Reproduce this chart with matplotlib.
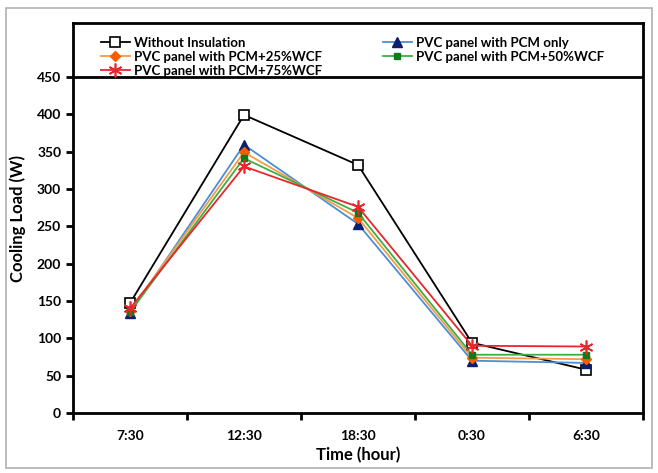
import numpy as np
import matplotlib.pyplot as plt
from matplotlib.patches import Rectangle

plt.rcParams['font.family'] = ['Lato', 'DejaVu Sans']
plt.rcParams['font.weight'] = 'bold'

# data
times = ['7:30', '12:30', '18:30', '0:30', '6:30']
without_ins = [147, 399, 332, 94, 58]
pcm_only = [134, 359, 253, 70, 67]
pcm_25 = [137, 349, 261, 74, 72]
pcm_50 = [135, 341, 268, 78, 78]
pcm_75 = [140, 330, 276, 90, 89]

fig = plt.figure(figsize=(6.58, 4.73), dpi=100)
ax = fig.add_axes([73/658, 1 - 413/473, 570/658, 390/473])

# light border around the whole picture
fig.patches.append(Rectangle((6/658, 5/473), 646/658, 460/473,
                             transform=fig.transFigure, fill=False,
                             edgecolor='#b0b0b0', lw=1.2))

x = np.arange(len(times))
l1, = ax.plot(x, without_ins, color='black', lw=1.3, marker='s', ms=7,
              mfc='white', mec='black', mew=1.2, label='Without Insulation')
l2, = ax.plot(x, pcm_only, color='#4a8fd4', lw=1.3, marker='^', ms=7,
              mfc='#0a1f6e', mec='#0a1f6e', label='PVC panel with PCM only')
l3, = ax.plot(x, pcm_25, color='#f59a4a', lw=1.3, marker='D', ms=5,
              mfc='#ff5a00', mec='#ff5a00', label='PVC panel with PCM+25%WCF')
l4, = ax.plot(x, pcm_50, color='#3cb043', lw=1.3, marker='s', ms=5,
              mfc='#0a7d1a', mec='#0a7d1a', label='PVC panel with PCM+50%WCF')
l5, = ax.plot(x, pcm_75, color='#e8262b', lw=1.3, marker=(6, 2, 0), ms=10,
              mec='#e8262b', mew=1.2, label='PVC panel with PCM+75%WCF')

ax.axhline(450, color='black', lw=2)
ax.set_xlim(-0.5, 4.5)
ax.set_ylim(0, 522)
ax.set_yticks(np.arange(0, 451, 50))
ax.set_xticks(np.arange(-0.5, 4.6, 1))
ax.set_xticklabels([])
ax.set_xticks(x, minor=True)
ax.set_xticklabels(times, minor=True)
ax.tick_params(axis='x', which='minor', length=0, pad=12, labelsize=10)
ax.tick_params(axis='x', which='major', length=5, width=2, direction='out')
ax.tick_params(axis='y', length=5, width=2, direction='out', labelsize=10)
for s in ax.spines.values():
    s.set_linewidth(2)

ax.set_xlabel('Time (hour)', fontsize=12, fontweight='bold', labelpad=4)
ax.set_ylabel('Cooling Load (W)', fontsize=12, fontweight='bold', labelpad=8)

handles = [l1, l3, l5, l2, l4]
ax.legend(handles=handles, ncol=2, loc='upper left', frameon=False,
          bbox_to_anchor=(0.035, 0.985), fontsize=9.5, handlelength=2.2,
          handletextpad=0.3, labelspacing=0.15, columnspacing=4.6,
          borderaxespad=0.2)

fig.savefig('out.png', dpi=100)
